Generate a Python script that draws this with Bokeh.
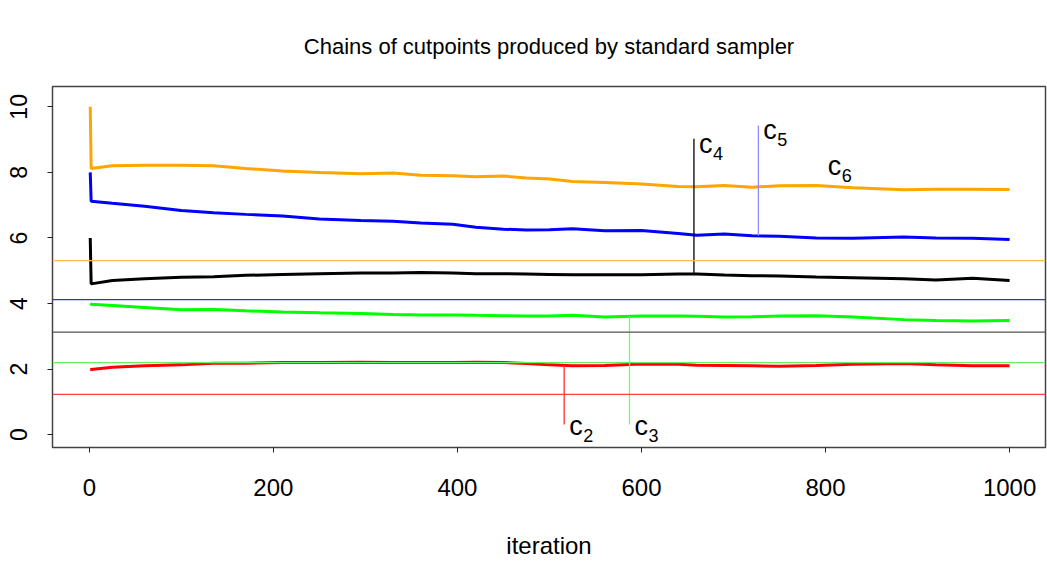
import numpy as np
from bokeh.plotting import figure
from bokeh.models import Range1d, Span, FixedTicker, ColumnDataSource
from bokeh.core.properties import value
from bokeh.embed import file_html
from bokeh.resources import INLINE

# ---------------- data ----------------
iterations = [1, 2, 25, 60, 100, 135, 170, 210, 250, 295, 330, 360, 395, 420, 450,
              475, 500, 525, 560, 600, 640, 660, 690, 720, 750, 790, 830, 885, 920, 960, 1000]
chain_c6 = [10.0, 8.12, 8.20, 8.22, 8.22, 8.20, 8.12, 8.04, 8.00, 7.96, 7.98, 7.91, 7.90, 7.87, 7.89,
            7.83, 7.80, 7.72, 7.69, 7.65, 7.57, 7.56, 7.60, 7.55, 7.59, 7.60, 7.53, 7.47, 7.49, 7.49, 7.48]
chain_c5 = [8.0, 7.12, 7.06, 6.97, 6.84, 6.77, 6.72, 6.67, 6.58, 6.53, 6.51, 6.46, 6.42, 6.33, 6.27,
            6.24, 6.25, 6.28, 6.22, 6.23, 6.14, 6.08, 6.12, 6.07, 6.05, 6.00, 5.99, 6.03, 6.00, 5.99, 5.95]
chain_c4 = [6.0, 4.60, 4.70, 4.76, 4.80, 4.82, 4.86, 4.89, 4.91, 4.93, 4.93, 4.95, 4.93, 4.91, 4.91,
            4.90, 4.89, 4.88, 4.88, 4.88, 4.90, 4.90, 4.87, 4.85, 4.84, 4.81, 4.79, 4.76, 4.72, 4.77, 4.70]
chain_c3 = [4.0, 3.98, 3.94, 3.88, 3.81, 3.82, 3.78, 3.74, 3.72, 3.70, 3.67, 3.65, 3.65, 3.64, 3.63,
            3.62, 3.62, 3.64, 3.59, 3.62, 3.62, 3.61, 3.59, 3.60, 3.62, 3.63, 3.59, 3.51, 3.48, 3.47, 3.48]
chain_c2 = [1.99, 1.99, 2.06, 2.10, 2.13, 2.18, 2.18, 2.20, 2.20, 2.21, 2.20, 2.20, 2.20, 2.21, 2.20,
            2.17, 2.13, 2.10, 2.11, 2.16, 2.15, 2.12, 2.11, 2.10, 2.09, 2.11, 2.15, 2.17, 2.13, 2.10, 2.10]

cut_names = ["2", "3", "4", "5", "6"]
cut_true = [1.23, 2.20, 3.13, 4.12, 5.31]          # horizontal reference lines
label_iter = [516, 587, 657, 727, 797]              # where each label pointer sits
label_end = [0.31, 0.31, 9.03, 9.43, None]          # end of pointer segment
label_text_y = [0.28, 0.28, 8.87, 9.30, 8.21]       # baseline of the "c"

x_ticks = [0, 200, 400, 600, 800, 1000]
y_ticks = [0, 2, 4, 6, 8, 10]

chains = [chain_c2, chain_c3, chain_c4, chain_c5, chain_c6]
chain_colors = ["#FF0000", "#00FF00", "#000000", "#0000FF", "#FFA500"]
hline_colors = ["#FF4040", "#66F066", "#555555", "#3030E0", "#FFB84D"]
seg_colors = ["#FF3030", "#80F080", "#000000", "#8C8CFF", None]

FONT = "Liberation Sans"

p = figure(width=1047, height=565, output_backend="svg", toolbar_location=None,
           x_range=Range1d(-40, 1039), y_range=Range1d(-0.39, 10.62),
           min_border_left=52, min_border_right=2, min_border_top=86, min_border_bottom=118,
           title="Chains of cutpoints produced by standard sampler")
p.title.text_font = FONT
p.title.text_font_size = "22px"
p.title.text_font_style = "normal"
p.title.text_color = "black"
p.title.align = "center"
p.title.standoff = 56

p.outline_line_color = "#444444"
p.outline_line_width = 1.5
p.xgrid.visible = False
p.ygrid.visible = False
p.background_fill_color = "white"
p.border_fill_color = "white"

for ax in (p.xaxis[0], p.yaxis[0]):
    ax.axis_line_color = None
    ax.major_tick_out = 5
    ax.major_tick_in = 0
    ax.minor_tick_line_color = None
    ax.major_tick_line_color = "#222222"
    ax.major_label_text_font = FONT
    ax.major_label_text_color = "black"

p.xaxis.ticker = FixedTicker(ticks=x_ticks)
p.yaxis.ticker = FixedTicker(ticks=y_ticks)
p.xaxis.major_label_text_font_size = "24px"
p.xaxis.major_label_standoff = 26
p.yaxis.major_label_text_font_size = "23px"
p.yaxis.major_label_orientation = "vertical"
p.yaxis.major_label_standoff = 20

p.xaxis.axis_label = "iteration"
p.xaxis.axis_label_text_font = FONT
p.xaxis.axis_label_text_font_size = "24px"
p.xaxis.axis_label_text_font_style = "normal"
p.xaxis.axis_label_text_color = "black"
p.xaxis.axis_label_standoff = 33

# horizontal reference lines
for v, c in zip(cut_true, hline_colors):
    p.add_layout(Span(location=v, dimension="width", line_color=c, line_width=1.2))

# chains
for ch, c in zip(chains, chain_colors):
    p.line(iterations, ch, line_color=c, line_width=3)

# pointer segments
for i in range(5):
    if label_end[i] is None:
        continue
    start = float(np.interp(label_iter[i], iterations, chains[i]))
    p.segment(x0=[label_iter[i]], y0=[start], x1=[label_iter[i]], y1=[label_end[i]],
              line_color=seg_colors[i], line_width=1.3)

# labels c with subscript
src = ColumnDataSource(dict(x=label_iter, y=label_text_y, sub=cut_names,
                            c=["c"] * 5))
p.text(x="x", y="y", text="c", source=src, x_offset=5, y_offset=0,
       text_font=value(FONT), text_font_size="27px", text_baseline="alphabetic",
       text_align="left", text_color="black")
p.text(x="x", y="y", text="sub", source=src, x_offset=19, y_offset=10,
       text_font=value(FONT), text_font_size="18px", text_baseline="alphabetic",
       text_align="left", text_color="black")

open("out.html", "w").write(file_html(p, INLINE))
